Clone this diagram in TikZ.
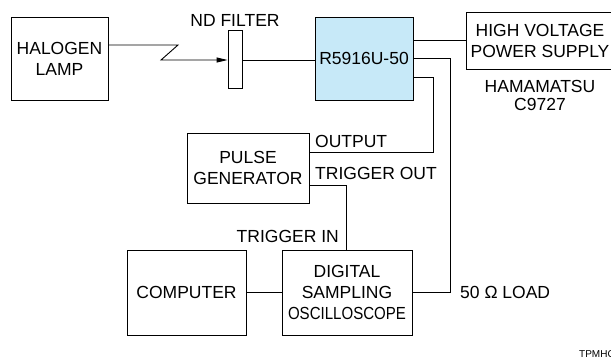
\documentclass[tikz,border=0pt]{standalone}
\usepackage{fontspec}
\setmainfont{Liberation Sans}
\usepackage{graphicx}
\usetikzlibrary{arrows.meta}
\definecolor{pmtblue}{RGB}{199,233,248}
\tikzset{
  box/.style={draw, line width=0.9pt, inner sep=0pt, align=center, font=\fontsize{17.5}{21}\selectfont},
  lbl/.style={inner sep=0pt, font=\fontsize{17.5}{21}\selectfont},
  wire/.style={line width=0.9pt}
}
\begin{document}
\begin{tikzpicture}[x=1pt,y=-1pt]
\useasboundingbox (0,0) rectangle (611,360);
% boxes
\node[box, minimum width=97pt, minimum height=83pt] (lamp) at (59.5,58.5) {HALOGEN\\LAMP};
\node[box, minimum width=14pt, minimum height=58pt] (filter) at (235,59) {};
\node[box, fill=pmtblue, minimum width=98pt, minimum height=83pt] (pmt) at (364,58.5) {R5916U-50};
\node[box, minimum width=148pt, minimum height=57pt] (hv) at (540,40.5) {HIGH VOLTAGE\\POWER SUPPLY};
\node[box, minimum width=122pt, minimum height=70pt] (pg) at (248,168) {PULSE\\GENERATOR};
\node[box, minimum width=130pt, minimum height=85pt] (osc) at (347,292.5) {DIGITAL\\SAMPLING\\\scalebox{0.86}[1]{OSCILLOSCOPE}};
\node[box, minimum width=119pt, minimum height=85pt] (comp) at (186.5,292.5) {COMPUTER};
% labels
\node[lbl, anchor=base] (ndlbl) at (235,26) {ND FILTER};
\node[lbl, anchor=north, align=center, font=\fontsize{17.5}{18}\selectfont] (maker) at (540,80) {HAMAMATSU\\C9727};
\node[lbl, anchor=base west] (outlbl) at (315,147) {OUTPUT};
\node[lbl, anchor=base west] (trolbl) at (315,179) {TRIGGER OUT};
\node[lbl, anchor=base east] (trilbl) at (339,242) {TRIGGER IN};
\node[lbl, anchor=base west] (loadlbl) at (460,298) {50 Ω LOAD};
\node[inner sep=0pt, anchor=base west, font=\fontsize{10}{12}\selectfont] (code) at (579,357) {TPMHC};
% connections
\coordinate (bend1) at (178,45);
\coordinate (bend2) at (161,60);
\draw[wire, -{Triangle[length=11pt,width=5pt]}] (lamp.east |- bend1) -- (bend1) -- (bend2) -- (filter.west |- bend2);
\draw[wire] (filter.east |- bend2) -- (pmt.west |- bend2);
\draw[wire] (pmt.east |- hv.west) -- (hv.west);
\coordinate (loadtop) at (450,58);
\draw[wire] (pmt.east |- loadtop) -- (loadtop) -- (loadtop |- osc.east) -- (osc.east);
\coordinate (outtop) at (433,77);
\coordinate (outlow) at (433,152);
\draw[wire] (pmt.east |- outtop) -- (outtop) -- (outlow) -- (pg.east |- outlow);
\coordinate (trig) at (346,185);
\draw[wire] (pg.east |- trig) -- (trig) -- (trig |- osc.north);
\draw[wire] (comp.east) -- (osc.west);
\end{tikzpicture}
\end{document}
